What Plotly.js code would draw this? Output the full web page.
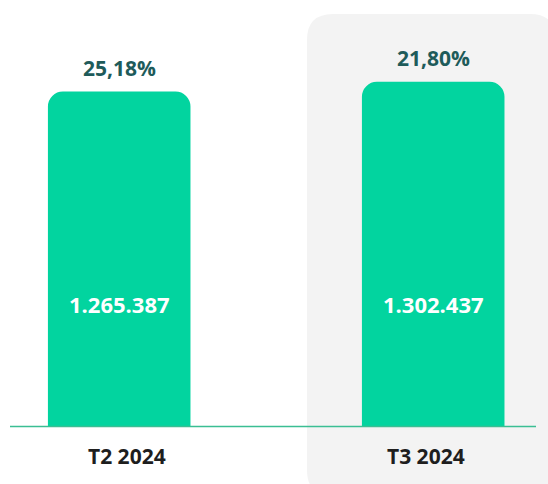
<!DOCTYPE html>
<html>
<head>
<meta charset="utf-8">
<script src="https://cdn.plot.ly/plotly-3.0.1.min.js"></script>
<style>html,body{margin:0;padding:0;background:#fff;}#chart{width:548px;height:484px;}</style>
</head>
<body>
<div id="chart"></div>
<script>
// Data
const categories = ["T2 2024", "T3 2024"];
const values = [1265387, 1302437];
const valueLabels = ["1.265.387", "1.302.437"];
const shareLabels = ["25,18%", "21,80%"];

// Layout constants (pixels)
const W = 548, H = 484, BOTTOM = 58;
const PH = H - BOTTOM;
const px2x = p => p / W;
const py2y = p => (PH - p) / PH;

function roundRectPath(x0, y0, x1, y1, r) {
  const X0 = px2x(x0), X1 = px2x(x1), Y0 = py2y(y0), Y1 = py2y(y1);
  const rx = r / W, ry = r / PH;
  return `M ${X0},${Y1 + ry} L ${X0},${Y0 - ry} Q ${X0},${Y0} ${X0 + rx},${Y0} ` +
         `L ${X1 - rx},${Y0} Q ${X1},${Y0} ${X1},${Y0 - ry} ` +
         `L ${X1},${Y1 + ry} Q ${X1},${Y1} ${X1 - rx},${Y1} ` +
         `L ${X0 + rx},${Y1} Q ${X0},${Y1} ${X0},${Y1 + ry} Z`;
}

const FONT = '"Open Sans", "Noto Sans", sans-serif';

const trace = {
  type: "bar",
  x: categories,
  y: values,
  marker: { color: "#02D49F", line: { width: 0 } },
  hoverinfo: "none"
};

const annotations = [];
categories.forEach((c, i) => {
  annotations.push({
    x: c, y: values[i], xref: "x", yref: "y",
    text: shareLabels[i], showarrow: false,
    yanchor: "middle", yshift: 24,
    font: { family: FONT, size: 21, color: "#1E5B5A", weight: 700 }
  });
  annotations.push({
    x: c, y: py2y(304), xref: "x", yref: "paper",
    text: valueLabels[i], showarrow: false,
    yanchor: "middle",
    font: { family: FONT, size: 22, color: "#ffffff", weight: 700 }
  });
  annotations.push({
    x: c, y: py2y(456), xref: "x", yref: "paper",
    text: c, showarrow: false,
    yanchor: "middle", xshift: i === 0 ? 8 : -7,
    font: { family: FONT, size: 21, color: "#1E1E1E", weight: 700 }
  });
});

const layout = {
  width: W, height: H,
  margin: { l: 0, r: 0, t: 0, b: BOTTOM, pad: 0 },
  paper_bgcolor: "#ffffff",
  plot_bgcolor: "rgba(0,0,0,0)",
  showlegend: false,
  bargap: 0.546,
  barcornerradius: 15,
  xaxis: {
    type: "category",
    range: [-0.3796, 1.3656],
    showticklabels: false, showgrid: false, zeroline: false, showline: false, ticks: ""
  },
  yaxis: {
    range: [0, 1612000],
    showticklabels: false, showgrid: false, zeroline: false, showline: false, ticks: ""
  },
  shapes: [
    {
      type: "path", xref: "paper", yref: "paper", layer: "below",
      path: roundRectPath(307, 14, 556, 496, 26),
      fillcolor: "#F3F3F3", line: { width: 0 }
    },
    {
      type: "line", xref: "paper", yref: "paper", layer: "above",
      x0: px2x(10), x1: px2x(536), y0: py2y(426.5), y1: py2y(426.5),
      line: { color: "#3BBE93", width: 1.5 }
    }
  ],
  annotations: annotations
};

Plotly.newPlot("chart", [trace], layout, { displayModeBar: false, staticPlot: true });
</script>
</body>
</html>
